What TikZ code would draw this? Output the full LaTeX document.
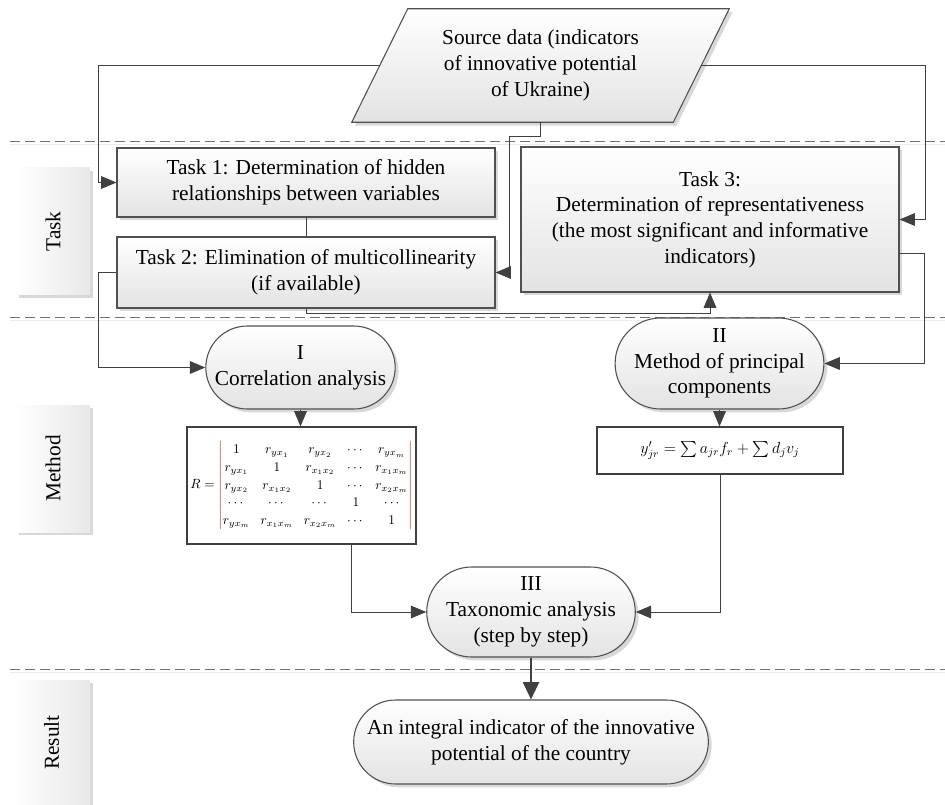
\documentclass[tikz,border=0pt]{standalone}
\usepackage{fontspec}
\setmainfont{Liberation Serif}
\usepackage{amsmath}
\usepackage{graphicx}
\usetikzlibrary{shapes.misc,shadows,arrows.meta,calc,backgrounds}
\definecolor{ln}{HTML}{404040}
\definecolor{bd}{HTML}{505050}
\definecolor{dsh}{HTML}{707070}
\definecolor{barc}{HTML}{7A3B2A}
\begin{document}
\begin{tikzpicture}[x=0.75pt,y=-0.75pt,
  font=\fontsize{16}{19.3}\selectfont,
  shd/.style={drop shadow={shadow xshift=2.5pt,shadow yshift=-2.5pt,fill=black!30,opacity=0.5}},
  box/.style={draw=bd,line width=0.8pt,top color=white,bottom color=black!11,shd,align=center,inner sep=2pt},
  term/.style={box,rounded rectangle},
  plain/.style={draw=ln,line width=0.8pt,fill=white,align=center,inner sep=1pt},
  lane/.style={left color=white,right color=black!9,shd,inner sep=0pt},
  txt/.style={align=center,inner sep=0pt},
  conn/.style={draw=ln,line width=0.75pt},
  arr/.style={conn,-{Triangle[length=11.5pt,width=9.5pt]}},
  bigarr/.style={draw=ln,line width=1.6pt,-{Triangle[length=13pt,width=12pt]}},
  dashline/.style={draw=dsh,line width=0.75pt,dash pattern=on 7.5pt off 3.75pt},
  dashshadow/.style={draw=black!8,line width=0.75pt}
]
\useasboundingbox (0,0) rectangle (945,805);

% lane separators
\draw[dashshadow] (10,145) -- (945,145);
\draw[dashshadow] (10,321) -- (945,321);
\draw[dashshadow] (10,672) -- (945,672);
\draw[dashline] (10,142) -- (945,142);
\draw[dashline] (10,318) -- (945,318);
\draw[dashline] (10,669) -- (945,669);

% lane labels
\node[lane,minimum width=55.5pt,minimum height=95.25pt] (laneT) at (53,231.5) {\rotatebox{90}{Task}};
\node[lane,minimum width=55.5pt,minimum height=95.25pt] (laneM) at (53,468.5) {\rotatebox{90}{Method}};
\node[lane,minimum width=57.75pt,minimum height=93.75pt] (laneR) at (51.5,742.5) {\rotatebox{90}{Result}};

% source data (parallelogram)
\node[txt,minimum width=240.75pt,minimum height=84.75pt] (src) at (540.5,65.5)
  {Source data (indicators\\of innovative potential\\of Ukraine)};
\begin{scope}[on background layer]
\path[draw=bd,line width=0.8pt,top color=white,bottom color=black!11,shd]
  ($(src.south west)+(-28,0)$) -- ($(src.north west)+(28,0)$) --
  ($(src.north east)+(28,0)$) -- ($(src.south east)+(-28,0)$) -- cycle;
\end{scope}

% tasks
\node[box,minimum width=283.5pt,minimum height=51.75pt] (t1) at (306,182.5)
  {Task 1: Determination of hidden\\relationships between variables};
\node[box,minimum width=283.5pt,minimum height=53.25pt] (t2) at (306,272.5)
  {Task 2: Elimination of multicollinearity\\(if available)};
\node[box,minimum width=283.5pt,minimum height=108.75pt] (t3) at (710,219.5)
  {Task 3:\\Determination of representativeness\\(the most significant and informative\\indicators)};

% methods
\node[term,minimum width=141.75pt,minimum height=62.25pt] (corr) at (300.5,367.5)
  {I\\Correlation analysis};
\node[term,minimum width=155.25pt,minimum height=68.25pt] (m2) at (719.5,363.5)
  {II\\Method of principal\\components};
\node[plain,minimum width=171.75pt,minimum height=87.75pt,font=\fontsize{10}{12}\selectfont] (mat) at (301.5,485.5)
  {\renewcommand{\arraystretch}{1.1}\setlength{\arraycolsep}{3.9pt}%
  $R=\color{barc}\left|\color{black}\begin{matrix}
   1 & r_{yx_1} & r_{yx_2} & \cdots & r_{yx_m}\\
   r_{yx_1} & 1 & r_{x_1x_2} & \cdots & r_{x_1x_m}\\
   r_{yx_2} & r_{x_1x_2} & 1 & \cdots & r_{x_2x_m}\\
   \cdots & \cdots & \cdots & 1 & \cdots\\
   r_{yx_m} & r_{x_1x_m} & r_{x_2x_m} & \cdots & 1
  \end{matrix}\color{barc}\right|$};
\node[plain,minimum width=184.5pt,minimum height=35.25pt,font=\fontsize{12}{14}\selectfont] (form) at (720,450.5)
  {$y'_{jr}=\sum a_{jr}f_r+\sum d_jv_j$};
\node[term,minimum width=156pt,minimum height=67.5pt] (tax) at (531,612)
  {III\\Taxonomic analysis\\(step by step)};
\node[term,minimum width=270pt,minimum height=63pt] (res) at (531,742)
  {An integral indicator of the innovative\\potential of the country};

% helper coordinates
\coordinate (xl) at (98,0);
\coordinate (xr) at (925,0);
\coordinate (xr2) at (924,0);
\coordinate (j1) at (509,137);
\coordinate (j2) at (0,314);
\coordinate (matout) at (351,0);
\coordinate (t3out) at ($(t3.east)+(0,34.5)$);

% connectors
\draw[arr] (src.west) -| (xl |- t1.west) -- (t1.west);
\draw[arr] (src.east) -| (xr |- t3.east) -- (t3.east);
\draw[arr] (src.south) |- (j1) |- (t2.east);
\draw[conn] (t1.south) -- (t2.north);
\draw[arr] (t2.south) |- (t3.south |- j2) -- (t3.south);
\draw[arr] (t2.west) -| (xl |- corr.west) -- (corr.west);
\draw[arr] (t3out) -| (xr2 |- m2.east) -- (m2.east);
\draw[arr] (corr.south) -- (corr.south |- mat.north);
\draw[arr] (m2.south) -- (m2.south |- form.north);
\draw[arr] (matout |- mat.south) |- (tax.west);
\draw[arr] (form.south) |- (tax.east);
\draw[bigarr] (tax.south) -- (res.north);
\end{tikzpicture}
\end{document}
